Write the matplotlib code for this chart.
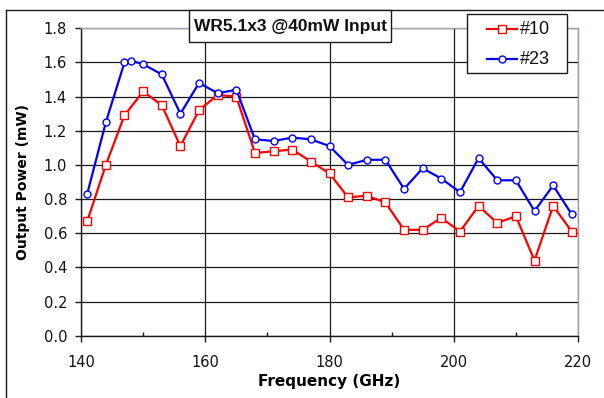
import matplotlib
matplotlib.use("Agg")
import matplotlib.pyplot as plt
from matplotlib.lines import Line2D
from matplotlib.patches import Rectangle
from matplotlib.ticker import MultipleLocator, FormatStrFormatter

freq_10 = [141, 144, 147, 150, 153, 156, 159, 162, 165, 168, 171, 174, 177, 180,
           183, 186, 189, 192, 195, 198, 201, 204, 207, 210, 213, 216, 219]
power_10 = [0.67, 1.00, 1.29, 1.43, 1.35, 1.11, 1.32, 1.41, 1.40, 1.07, 1.08, 1.09, 1.02, 0.95,
            0.81, 0.82, 0.78, 0.62, 0.62, 0.69, 0.61, 0.76, 0.66, 0.70, 0.44, 0.76, 0.61]
freq_23 = [141, 144, 147, 148, 150, 153, 156, 159, 162, 165, 168, 171, 174, 177, 180,
           183, 186, 189, 192, 195, 198, 201, 204, 207, 210, 213, 216, 219]
power_23 = [0.83, 1.25, 1.60, 1.61, 1.59, 1.53, 1.30, 1.48, 1.42, 1.44, 1.15, 1.14, 1.16, 1.15, 1.11,
            1.00, 1.03, 1.03, 0.86, 0.98, 0.92, 0.84, 1.04, 0.91, 0.91, 0.73, 0.88, 0.71]
labels = ["#10", "#23"]
title = "WR5.1x3 @40mW Input"
xlabel = "Frequency (GHz)"
ylabel = "Output Power (mW)"

W, H = 604, 398
fig = plt.figure(figsize=(W / 100, H / 100), dpi=100)
fig.patch.set_facecolor("white")

def fx(px):
    return px / W

def fy(py):
    return 1 - py / H

ax = fig.add_axes([fx(81), fy(335.7), fx(578) - fx(81), fy(28.3) - fy(335.7)])
ax.set_xlim(140, 220)
ax.set_ylim(0, 1.8)

ax.xaxis.set_major_locator(MultipleLocator(20))
ax.xaxis.set_minor_locator(MultipleLocator(10))
ax.yaxis.set_major_locator(MultipleLocator(0.2))
ax.yaxis.set_major_formatter(FormatStrFormatter("%.1f"))

ax.grid(True, which="major", color="#1a1a1a", lw=0.9)
ax.set_axisbelow(True)

for sp in ["top", "right"]:
    ax.spines[sp].set_color("#a89aa8")
    ax.spines[sp].set_linewidth(1.0)
for sp in ["left", "bottom"]:
    ax.spines[sp].set_color("#1a1a1a")
    ax.spines[sp].set_linewidth(1.0)

ax.tick_params(axis="both", which="major", direction="out", length=4, width=1,
               colors="#1a1a1a", labelsize=10.5, labelcolor="#111111")
ax.tick_params(axis="x", which="major", pad=10)
ax.tick_params(axis="y", which="major", pad=6)
ax.tick_params(axis="x", which="minor", direction="in", length=3, width=1, colors="#1a1a1a")

l1, = ax.plot(freq_10, power_10, color="#ff0000", lw=1.6, marker="s", ms=6.0,
              mfc="white", mec="#ff0000", mew=1.0, label=labels[0], zorder=3)
l2, = ax.plot(freq_23, power_23, color="#0000ff", lw=1.6, marker="o", ms=5.0,
              mfc="white", mec="#0000ff", mew=1.0, label=labels[1], zorder=4)

ax.set_xlabel(xlabel, fontsize=11, fontweight="bold", labelpad=3)
ax.set_ylabel(ylabel, fontsize=10, fontweight="bold", labelpad=10)

# chart border (left and top)
fig.add_artist(Line2D([fx(6), fx(6)], [fy(10), 0], color="#1a1a1a", lw=1.0))
fig.add_artist(Line2D([fx(6), 1], [fy(10), fy(10)], color="#1a1a1a", lw=1.0))

# title box
fig.add_artist(Rectangle((fx(189), fy(42)), fx(391) - fx(189), fy(10) - fy(42),
                         transform=fig.transFigure, fc="white", ec="#1a1a1a", lw=1.0, zorder=5))
fig.text(fx(290), fy(26.5), title, ha="center", va="center", fontsize=12.5,
         fontweight="bold", family="Liberation Sans", color="#111111", zorder=6)

# legend box
fig.add_artist(Rectangle((fx(466.7), fy(73.3)), fx(566.7) - fx(466.7), fy(14) - fy(73.3),
                         transform=fig.transFigure, fc="white", ec="#1a1a1a", lw=1.0, zorder=5))
for line, lab, yy in [(l1, labels[0], 29), (l2, labels[1], 59)]:
    fig.add_artist(Line2D([fx(486.7), fx(516.7)], [fy(yy), fy(yy)], color=line.get_color(),
                          lw=line.get_linewidth(), zorder=6))
    fig.add_artist(Line2D([fx(501.7)], [fy(yy)], marker=line.get_marker(),
                          ms=line.get_markersize(), mfc="white", mec=line.get_color(),
                          mew=1.0, lw=0, zorder=7))
    fig.text(fx(519.5), fy(yy), lab, ha="left", va="center", fontsize=13,
             family="Liberation Sans", color="#111111", zorder=7)

fig.savefig("out.png", dpi=100)
